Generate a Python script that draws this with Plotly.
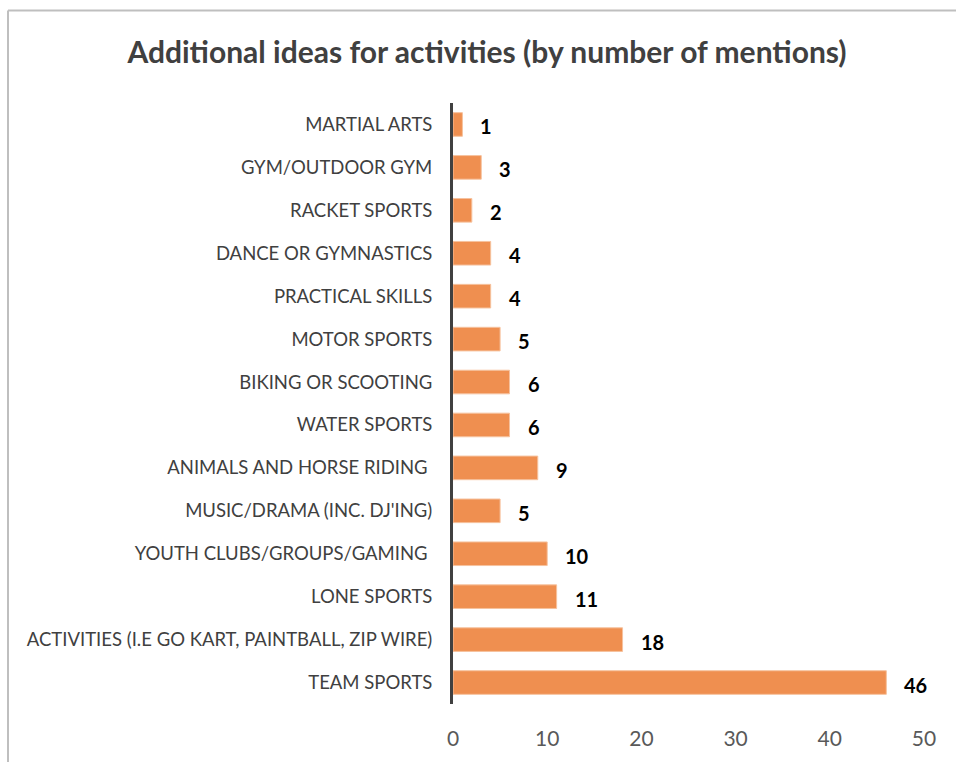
import plotly.graph_objects as go

# Activities listed top to bottom, with number of mentions
categories = [
    "MARTIAL ARTS",
    "GYM/OUTDOOR GYM",
    "RACKET SPORTS",
    "DANCE OR GYMNASTICS",
    "PRACTICAL SKILLS",
    "MOTOR SPORTS",
    "BIKING OR SCOOTING",
    "WATER SPORTS",
    "ANIMALS AND HORSE RIDING ",
    "MUSIC/DRAMA (INC. DJ'ING)",
    "YOUTH CLUBS/GROUPS/GAMING ",
    "LONE SPORTS",
    "ACTIVITIES (I.E GO KART, PAINTBALL, ZIP WIRE)",
    "TEAM SPORTS",
]
mentions = [1, 3, 2, 4, 4, 5, 6, 6, 9, 5, 10, 11, 18, 46]
x_ticks = [0, 10, 20, 30, 40, 50]

W, H = 956, 762
M_L, M_R, M_T, M_B = 453, 32, 103, 54
FONT = "Lato"

fig = go.Figure(
    go.Bar(
        x=mentions,
        y=categories,
        orientation="h",
        marker=dict(color="#EF8F50", line=dict(color="#F6C29E", width=1)),
        width=0.55,
        hoverinfo="x+y",
    )
)

# bold value labels just past each bar end
for cat, val in zip(categories, mentions):
    fig.add_annotation(
        x=val, y=cat, text=str(val), showarrow=False,
        xanchor="left", yanchor="middle", xshift=16, yshift=-2,
        font=dict(family=FONT, size=20, color="#000000", weight="bold"),
    )

# light frame around the chart (left and top edges)
pw = W - M_L - M_R
ph = H - M_T - M_B
def px_x(p):
    return (p - M_L) / pw
def px_y(p):
    return 1 - (p - M_T) / ph

frame = dict(type="line", xref="paper", yref="paper",
             line=dict(color="#BFBFBF", width=2), layer="below")
fig.add_shape(**frame, x0=px_x(8), x1=px_x(8), y0=px_y(10), y1=px_y(H + 5))
fig.add_shape(**frame, x0=px_x(8), x1=px_x(W + 5), y0=px_y(10), y1=px_y(10))

fig.update_layout(
    width=W, height=H,
    margin=dict(l=M_L, r=M_R, t=M_T, b=M_B),
    paper_bgcolor="white", plot_bgcolor="white",
    showlegend=False,
    title=dict(
        text="Additional ideas for activities (by number of mentions)",
        x=487 / W, xanchor="center", xref="container",
        y=1 - 52 / H, yanchor="middle", yref="container",
        font=dict(family=FONT, size=30, color="#404040", weight="bold"),
    ),
    xaxis=dict(
        range=[0, 50], tickvals=x_ticks, showgrid=False, zeroline=False,
        showline=False, ticks="", ticklabelstandoff=20,
        tickfont=dict(family=FONT, size=21, color="#595959"),
    ),
    yaxis=dict(
        autorange="reversed", showgrid=False, zeroline=False,
        showline=True, linecolor="#404040", linewidth=3,
        ticks="", ticklabelstandoff=14,
        tickfont=dict(family=FONT, size=18.5, color="#404040"),
    ),
    bargap=0.45,
)

fig.write_html("out.html")
